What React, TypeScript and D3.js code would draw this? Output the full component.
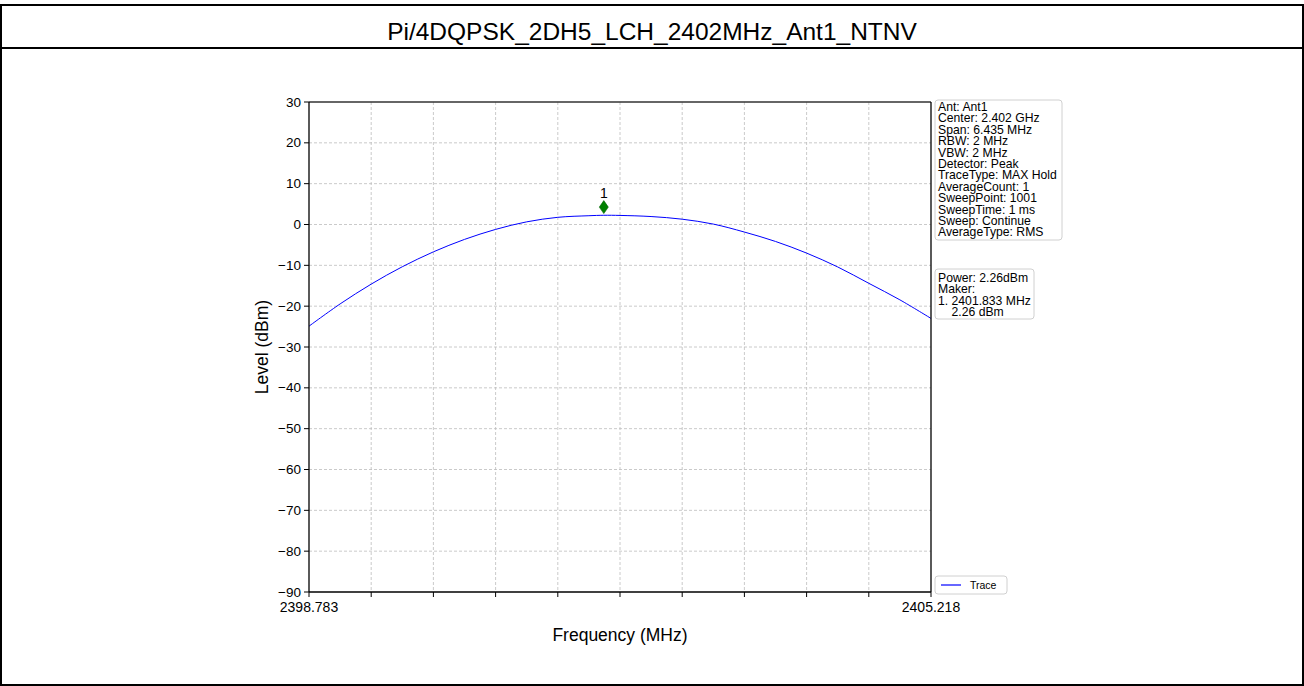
import React from 'react';
import * as d3 from 'd3';

// ---- data ----
const TITLE = 'Pi/4DQPSK_2DH5_LCH_2402MHz_Ant1_NTNV';
const START_MHZ = 2398.783;
const STOP_MHZ = 2405.218;

const freqMHz = [
  2398.783, 2399.105, 2399.4265, 2399.748, 2400.07, 2400.392, 2400.7135, 2401.035,
  2401.357, 2401.679, 2401.833, 2402.0005, 2402.322, 2402.644, 2402.966, 2403.2875,
  2403.609, 2403.931, 2404.253, 2404.5745, 2404.896, 2405.218,
];
const levelDbm = [
  -24.9, -19.45, -14.6, -10.35, -6.7, -3.65, -1.2, 0.65,
  1.76, 2.15, 2.26, 2.22, 1.95, 1.3, 0.1, -1.85,
  -4.15, -7.0, -10.4, -14.4, -18.45, -23.0,
];

const markerFreq = 2401.833;
const markerLevel = 2.26;
const markerLabel = '1';

const yTicks = [30, 20, 10, 0, -10, -20, -30, -40, -50, -60, -70, -80, -90];
const xTickLabels = ['2398.783', '', '', '', '', '', '', '', '', '', '2405.218'];

const infoLines = [
  'Ant: Ant1',
  'Center: 2.402 GHz',
  'Span: 6.435 MHz',
  'RBW: 2 MHz',
  'VBW: 2 MHz',
  'Detector: Peak',
  'TraceType: MAX Hold',
  'AverageCount: 1',
  'SweepPoint: 1001',
  'SweepTime: 1 ms',
  'Sweep: Continue',
  'AverageType: RMS',
];
const markerLines = ['Power: 2.26dBm', 'Maker:', '1. 2401.833 MHz', '    2.26 dBm'];
const legendLabel = 'Trace';

// ---- layout ----
const W = 1304;
const H = 686;
const plot = { left: 309, right: 931, top: 102, bottom: 592 };
const FONT = 'Arial, "Liberation Sans", Helvetica, sans-serif';

export default function App() {
  const x = d3.scaleLinear().domain([START_MHZ, STOP_MHZ]).range([plot.left, plot.right]);
  const y = d3.scaleLinear().domain([-90, 30]).range([plot.bottom, plot.top]);

  const xTicks = d3.range(xTickLabels.length).map(
    (i) => START_MHZ + (i * (STOP_MHZ - START_MHZ)) / (xTickLabels.length - 1)
  );

  const line = d3
    .line<number>()
    .x((_, i) => x(freqMHz[i]))
    .y((d) => y(d))
    .curve(d3.curveCatmullRom.alpha(0.5));
  const tracePath = line(levelDbm) || '';

  const mx = x(markerFreq);
  const my = y(markerLevel + 2);

  const infoX = 935;
  const infoY = 100;
  const lh = 11.4;

  return (
    <svg
      width={W}
      height={H}
      style={{ position: 'absolute', left: 0, top: 0, background: '#fff' }}
      fontFamily={FONT}
    >
      {/* outer table frame */}
      <rect x={1} y={5} width={W - 2} height={H - 6} fill="#fff" stroke="#000" strokeWidth={2} />
      <line x1={1} x2={W - 1} y1={48} y2={48} stroke="#000" strokeWidth={2} />
      <text x={W / 2} y={34} textAnchor="middle" dominantBaseline="middle" fontSize={24.5} fill="#000">
        {TITLE}
      </text>

      {/* grid */}
      <g stroke="#bdbdbd" strokeWidth={0.8} strokeDasharray="3,2">
        {xTicks.slice(1, -1).map((t, i) => (
          <line key={'gx' + i} x1={x(t)} x2={x(t)} y1={plot.top} y2={plot.bottom} />
        ))}
        {yTicks.slice(1, -1).map((t) => (
          <line key={'gy' + t} x1={plot.left} x2={plot.right} y1={y(t)} y2={y(t)} />
        ))}
      </g>

      {/* trace */}
      <path d={tracePath} fill="none" stroke="#0000ff" strokeWidth={1} />

      {/* marker */}
      <path
        d={`M${mx},${my - 6.5} L${mx + 4.5},${my} L${mx},${my + 6.5} L${mx - 4.5},${my} Z`}
        fill="#008000"
        stroke="#006400"
        strokeWidth={0.6}
      />
      <text x={mx} y={my - 9} textAnchor="middle" fontSize={14} fill="#000">
        {markerLabel}
      </text>

      {/* spines */}
      <line x1={plot.left} x2={plot.right} y1={plot.top} y2={plot.top} stroke="#333" strokeWidth={1.3} />
      <line x1={plot.right} x2={plot.right} y1={plot.top} y2={plot.bottom} stroke="#000" strokeWidth={1.3} />
      <line x1={plot.left} x2={plot.left} y1={plot.top} y2={plot.bottom} stroke="#000" strokeWidth={1.3} />
      <line x1={plot.left} x2={plot.right} y1={plot.bottom} y2={plot.bottom} stroke="#000" strokeWidth={1.3} />

      {/* y axis */}
      {yTicks.map((t) => (
        <g key={'yt' + t}>
          <line x1={plot.left - 5} x2={plot.left} y1={y(t)} y2={y(t)} stroke="#000" strokeWidth={1} />
          <text x={plot.left - 8} y={y(t)} textAnchor="end" dominantBaseline="central" fontSize={13.5} fill="#000">
            {t < 0 ? '\u2212' + Math.abs(t) : String(t)}
          </text>
        </g>
      ))}
      <text
        transform={`translate(262,${(plot.top + plot.bottom) / 2}) rotate(-90)`}
        textAnchor="middle"
        dominantBaseline="central"
        fontSize={17.5}
        fill="#000"
      >
        Level (dBm)
      </text>

      {/* x axis */}
      {xTicks.map((t, i) => (
        <g key={'xt' + i}>
          <line x1={x(t)} x2={x(t)} y1={plot.bottom} y2={plot.bottom + 5} stroke="#000" strokeWidth={1} />
          {xTickLabels[i] && (
            <text x={x(t)} y={612} textAnchor="middle" fontSize={14} fill="#000">
              {xTickLabels[i]}
            </text>
          )}
        </g>
      ))}
      <text x={620} y={641} textAnchor="middle" fontSize={17.5} fill="#000">
        Frequency (MHz)
      </text>

      {/* settings box */}
      <rect x={infoX} y={infoY} width={127} height={140} rx={3} fill="#fff" fillOpacity={0.85} stroke="#d0d0d0" />
      {infoLines.map((s, i) => (
        <text key={'info' + i} x={infoX + 3} y={infoY + 11 + i * lh} fontSize={12.2} fill="#000">
          {s}
        </text>
      ))}

      {/* power / marker box */}
      <rect x={935} y={269} width={99} height={50} rx={3} fill="#fff" fillOpacity={0.85} stroke="#d0d0d0" />
      {markerLines.map((s, i) => (
        <text key={'mk' + i} x={938} y={282 + i * lh} fontSize={12.2} fill="#000" style={{ whiteSpace: 'pre' }}>
          {s}
        </text>
      ))}

      {/* legend */}
      <rect x={935} y={576} width={72} height={18} rx={3} fill="#fff" fillOpacity={0.85} stroke="#d0d0d0" />
      <line x1={941} x2={961} y1={585} y2={585} stroke="#0000ff" strokeWidth={1.2} />
      <text x={970} y={585} dominantBaseline="central" fontSize={10.5} fill="#000">
        {legendLabel}
      </text>
    </svg>
  );
}
